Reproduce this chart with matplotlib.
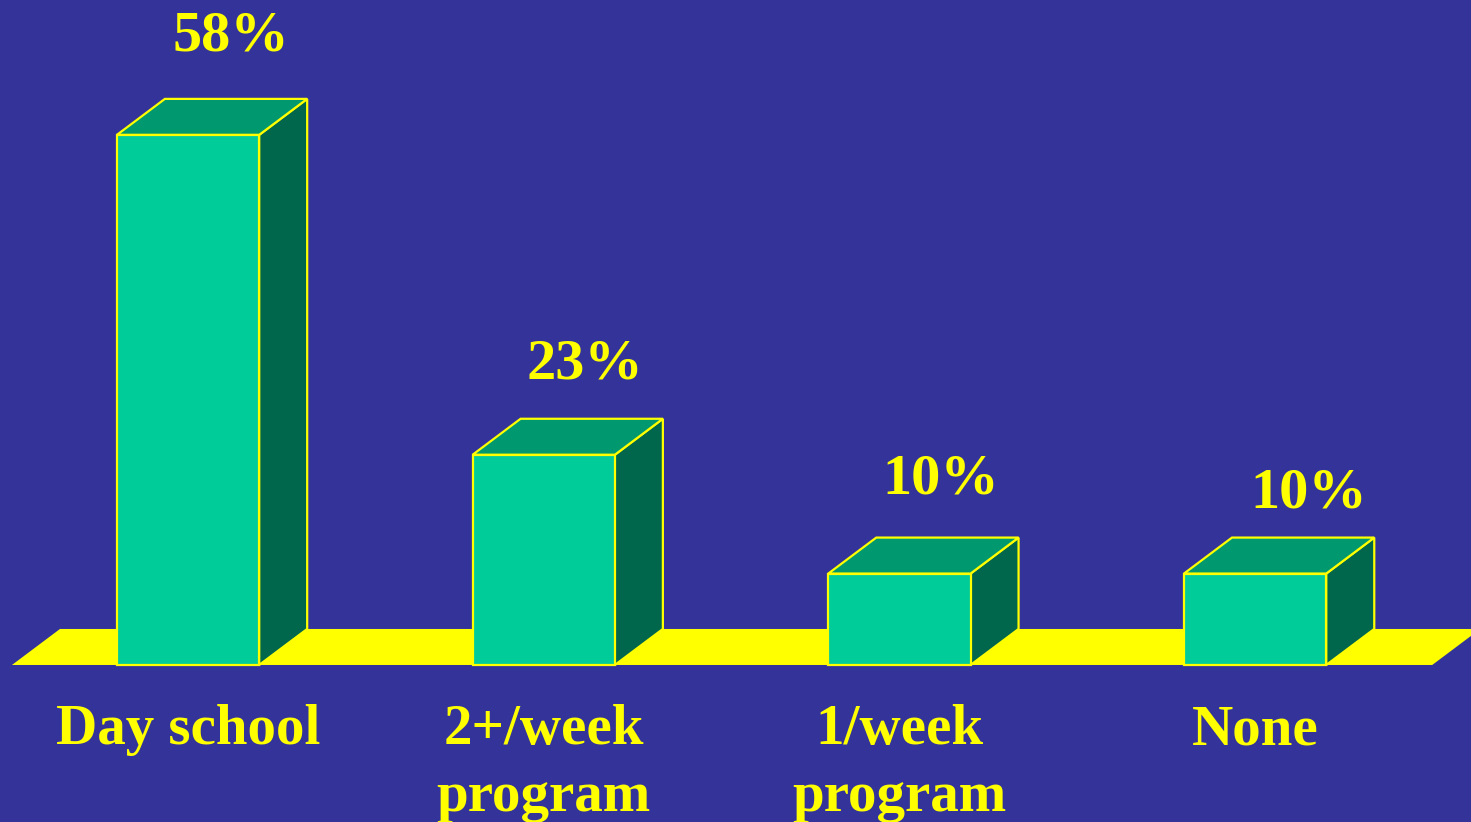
import matplotlib
matplotlib.use("Agg")
import matplotlib.pyplot as plt
from matplotlib.patches import Polygon

# data
categories = ["Day school", "2+/week\nprogram", "1/week\nprogram", "None"]
values = [58, 23, 10, 10]
value_labels = ["58%", "23%", "10%", "10%"]

# colours
bg = "#333399"
front_c = "#00CC99"
top_c = "#00996F"
side_c = "#00664C"
yellow = "#FFFF00"

# geometry (data units)
bar_w = 0.40
dx, dy = 0.135, 3.94

# small nudges for the value labels, as in the original slide
lab_dx = [0.12, 0.115, 0.115, 0.15]
lab_dy = [5.3, 4.4, 4.8, 3.3]

fig = plt.figure(figsize=(14.71, 8.22), dpi=100, facecolor=bg)
ax = fig.add_axes([0, 0, 1, 1])
ax.set_facecolor(bg)
ax.set_xlim(-0.5286, 3.607)
ax.set_ylim(-17.18, 72.76)
ax.axis("off")

# floor
x0, x1 = -0.495, 3.498
ax.add_patch(Polygon([(x0, 0), (x1, 0), (x1 + dx, dy), (x0 + dx, dy)],
                     closed=True, facecolor=yellow, edgecolor="none", zorder=1))

for i, (v, lab) in enumerate(zip(values, value_labels)):
    l = i - bar_w / 2
    r = i + bar_w / 2
    front = [(l, 0), (r, 0), (r, v), (l, v)]
    top = [(l, v), (r, v), (r + dx, v + dy), (l + dx, v + dy)]
    side = [(r, 0), (r + dx, dy), (r + dx, v + dy), (r, v)]
    for pts, c in [(side, side_c), (top, top_c), (front, front_c)]:
        ax.add_patch(Polygon(pts, closed=True, facecolor=c, edgecolor=yellow,
                             linewidth=1.6, joinstyle="miter", zorder=2))
    ax.text(i + lab_dx[i], v + dy + lab_dy[i], lab, ha="center", va="baseline",
            color=yellow, fontsize=42, fontweight="bold",
            family="Liberation Serif", zorder=3)

for i, cat in enumerate(categories):
    ax.text(i, -4.3, cat, ha="center", va="top", color=yellow,
            fontsize=41, fontweight="bold", family="Liberation Serif",
            linespacing=1.38, zorder=3)

fig.savefig("out.png", dpi=100, facecolor=bg)
